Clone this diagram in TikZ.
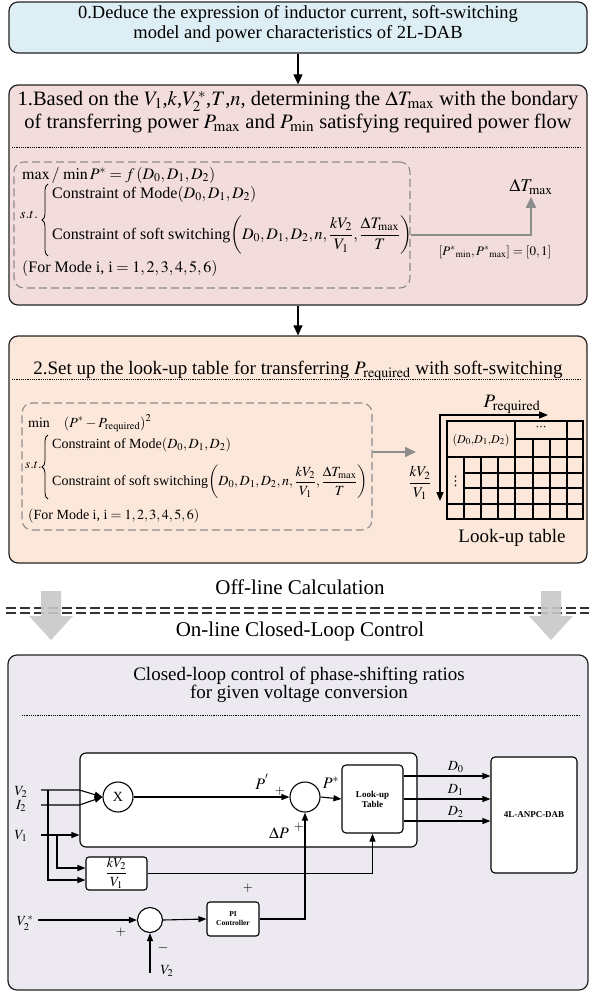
\documentclass[tikz,border=0pt]{standalone}
\usepackage{amsmath}
\usepackage{mathptmx}
\usepackage{fontspec}
\setmainfont{Liberation Serif}
\newfontfamily\dotsfont{DejaVu Sans}
\usetikzlibrary{arrows.meta,calc,decorations.pathreplacing}

\definecolor{panelblue}{HTML}{DDEEF4}
\definecolor{panelpink}{HTML}{F2DDDC}
\definecolor{panelpeach}{HTML}{FCE8DA}
\definecolor{panellilac}{HTML}{ECE9F1}
\definecolor{edge}{HTML}{222222}
\definecolor{dashgray}{HTML}{8C8C8C}
\definecolor{bigarrow}{HTML}{C8C8C8}
\definecolor{rule}{HTML}{333333}

\newcommand{\setfs}[2]{\fontsize{#1}{#2}\selectfont}

\begin{document}
\begin{tikzpicture}[x=1pt,y=-1pt,
  panel/.style={draw=edge,line width=1.2pt,rounded corners=9pt,inner sep=0pt},
  frame/.style={draw=dashgray,line width=1.1pt,dash pattern=on 8pt off 4pt,rounded corners=10pt,inner sep=0pt},
  sepline/.style={line width=0.7pt,dash pattern=on 1.2pt off 1pt},
  flow/.style={line width=1.1pt,-{Triangle[length=10pt,width=9pt]}},
  grayflow/.style={draw=dashgray,line width=1.6pt,-{Triangle[length=11pt,width=10pt]}},
  sig/.style={line width=1.1pt,-{Triangle[length=8pt,width=6pt]}},
  blk/.style={draw,line width=1.1pt,fill=white,rounded corners=4pt,inner sep=0pt},
  junc/.style={circle,draw,line width=1.1pt,fill=white,inner sep=0pt},
  title/.style={font=\setfs{19}{20},align=center,inner sep=0pt},
  eq/.style={font=\setfs{16}{18},inner sep=0pt},
  eqs/.style={font=\setfs{14}{16},inner sep=0pt},
  lbl/.style={font=\setfs{14}{16},inner sep=0pt},
  curly/.style={decorate,decoration={brace,amplitude=6pt},line width=0.8pt},
  tiny/.style={font=\bfseries\setfs{9}{10},align=center,inner sep=0pt},
  bigdown/.style={fill=bigarrow,fill opacity=0.9}]

\useasboundingbox (0,0) rectangle (589,993);

% ---------- step 0 ----------
\node[panel,fill=panelblue,minimum width=578pt,minimum height=51pt] (p0) at (298,27.5) {};
\node[title,font=\setfs{18.5}{19.5}] (t0) at (298,24) {0.Deduce the expression of inductor current, soft-switching\\model and power characteristics of 2L-DAB};

% ---------- step 1 ----------
\node[panel,fill=panelpink,minimum width=578pt,minimum height=220pt] (p1) at (298,195) {};
\node[title,font=\setfs{20.5}{23}] (t1) at (298,112) {1.Based on the $V_1$,$k$,$V_2^{\,*}$,$T$,$n$, determining the $\Delta T_{\max}$ with the bondary\\of transferring power $P_{\max}$ and $P_{\min}$ satisfying required power flow};
\draw[sepline] (12,147) -- (581,147);

\node[frame,minimum width=396pt,minimum height=126pt] (db1) at (212,225) {};
\node[eq,anchor=base west] (mx1) at (22,179) {$\max/\,\min P^{*}=f\left(D_0,D_1,D_2\right)$};
\node[font=\setfs{14}{16},inner sep=0pt,anchor=west] (st1) at (20,215) {$s.t.$};
\coordinate (bt1) at (48,184);
\coordinate (bb1) at (48,256);
\draw[curly] (bb1) -- (bt1);
\node[eq,anchor=west] (md1) at (52,194) {Constraint of Mode$\left(D_0,D_1,D_2\right)$};
\node[eq,anchor=west] (sr1) at (52,235) {Constraint of soft switching$\left(D_0,D_1,D_2,n,\dfrac{kV_2}{V_1},\dfrac{\Delta T_{\max}}{T}\right)$};
\node[eq,anchor=base west] (fm1) at (22,272) {$(\text{For Mode i, i}=1,2,3,4,5,6)$};

\node[font=\setfs{18}{20},inner sep=0pt] (dT) at (531,187) {$\Delta T_{\max}$};
\draw[grayflow] (db1.east |- sr1.east) -| ([yshift=-2pt]dT.south);
\node[font=\setfs{13}{15},inner sep=0pt] (rng) at (495,252) {$[P^{*}{}_{\min},P^{*}{}_{\max}]=[0,1]$};

\draw[flow] (p0.south) -- (p1.north);

% ---------- step 2 ----------
\node[panel,fill=panelpeach,minimum width=578pt,minimum height=227pt] (p2) at (298,449.5) {};
\node[title,anchor=base] (t2) at (298,374) {2.Set up the look-up table for transferring $P_{\mathrm{required}}$ with soft-switching};
\draw[sepline] (12,379) -- (581,379);

\node[frame,minimum width=350pt,minimum height=127pt] (db2) at (197,466.5) {};
\node[eqs,anchor=base west] (mn2) at (28,427) {$\min\quad(P^{*}-P_{\mathrm{required}})^2$};
\node[font=\setfs{13}{15},inner sep=0pt,anchor=west] (st2) at (25,465) {$s.t.$};
\coordinate (bt2) at (48,435);
\coordinate (bb2) at (48,499);
\draw[curly] (bb2) -- (bt2);
\node[eqs,anchor=west] (md2) at (52,445) {Constraint of Mode$\left(D_0,D_1,D_2\right)$};
\node[eqs,anchor=west] (sr2) at (52,482) {Constraint of soft switching$\left(D_0,D_1,D_2,n,\dfrac{kV_2}{V_1},\dfrac{\Delta T_{\max}}{T}\right)$};
\node[eqs,anchor=base west] (fm2) at (28,519) {$(\text{For Mode i, i}=1,2,3,4,5,6)$};

\coordinate (tin) at (416,452);
\draw[grayflow] (db2.east |- tin) -- (tin);
\node[font=\setfs{15}{17},inner sep=0pt] (kv) at (420,483) {$\dfrac{kV_2}{V_1}$};

% look-up table grid
\begin{scope}[line width=1.3pt]
  \draw (447,421) rectangle (583,519);
  \draw (447,457) -- (583,457);
  \draw (515,439) -- (583,439);
  \draw (464,473) -- (583,473);
  \draw (464,488) -- (583,488);
  \draw (447,504) -- (583,504);
  \foreach \xx in {464,481,498} \draw (\xx,457) -- (\xx,519);
  \foreach \xx in {533,550} \draw (\xx,439) -- (\xx,519);
  \draw (567,421) -- (567,519);
  \draw[line width=2.2pt] (515,421) -- (515,519);
\end{scope}
\node[font=\setfs{12}{14},inner sep=0pt] (cell) at (481,440) {$(D_0{,}D_1{,}D_2)$};
\node[font=\dotsfont\setfs{11}{13},inner sep=0pt] (hdots) at (541,428) {⋯};
\node[font=\dotsfont\setfs{13}{15},inner sep=0pt] (vdots) at (455.5,481) {⋮};
\node[font=\setfs{19}{21},inner sep=0pt] (preq) at (512,404) {$P_{\mathrm{required}}$};
\coordinate (tc) at (440,415);
\coordinate (tx) at (548,415);
\coordinate (ty) at (440,501);
\draw[line width=1.3pt,{Triangle[length=9pt,width=7pt]}-{Triangle[length=9pt,width=7pt]}] (tx) -- (tc) -- (ty);
\node[font=\setfs{19}{21},inner sep=0pt] (lt) at (512,538) {Look-up table};

\draw[flow] (p1.south) -- (p2.north);

% ---------- off-line / on-line split ----------
\node[font=\setfs{21}{23},inner sep=0pt] (off) at (300,587) {Off-line Calculation};
\draw[rule,line width=1.3pt,dash pattern=on 10pt off 4pt] (6,608) -- (589,608);
\draw[rule,line width=1.3pt,dash pattern=on 10pt off 4pt] (6,613) -- (589,613);
\fill[bigdown] (41,591) -- (61,591) -- (61,616) -- (73,616) -- (51,640) -- (29,616) -- (41,616) -- cycle;
\fill[bigdown] (541,591) -- (561,591) -- (561,616) -- (573,616) -- (551,640) -- (529,616) -- (541,616) -- cycle;
\node[font=\setfs{21}{23},inner sep=0pt] (on) at (300,631) {On-line Closed-Loop Control};

% ---------- closed-loop control ----------
\node[panel,fill=panellilac,minimum width=580pt,minimum height=335pt] (p3) at (298,822.5) {};
\node[title,font=\setfs{19}{18}] (t3) at (299,685) {Closed-loop control of phase-shifting ratios\\for given voltage conversion};
\draw[sepline] (22,715) -- (580,715);

\node[blk,rounded corners=6pt,minimum width=337pt,minimum height=94pt] (inner) at (248.5,800) {};
\node[junc,minimum size=30pt,font=\setfs{14}{16}] (mul) at (118,797) {X};
\node[junc,minimum size=30pt] (sum1) at (305,797) {};
\node[blk,minimum width=61pt,minimum height=68pt,tiny] (lut) at (372.5,799) {Look-up\\Table};
\node[blk,minimum width=86pt,minimum height=116pt,tiny] (dab) at (534,815) {4L-ANPC-DAB};
\node[blk,rounded corners=3pt,minimum width=61pt,minimum height=33pt,font=\setfs{14}{16}] (ratio) at (116.5,873.5) {$\dfrac{kV_2}{V_1}$};
\node[junc,minimum size=25pt] (sum2) at (150,920) {};
\node[blk,rounded corners=3pt,minimum width=52pt,minimum height=34pt,font=\bfseries\setfs{7.5}{9},align=center] (pi) at (233,919) {PI\\Controller};

% measured inputs
\node[lbl] (lv2) at (21,792) {$V_2$};
\node[lbl] (li2) at (21,806) {$I_2$};
\node[lbl] (lv1) at (21,836) {$V_1$};
\coordinate (v2s) at (41,790);
\coordinate (i2s) at (41,805);
\coordinate (v1s) at (41,835);
\draw[sig] (v2s) -- (v2s -| inner.west) -- (mul.west);
\draw[sig] (i2s) -- (i2s -| inner.west) -- (mul.west);
\draw[sig] (v1s) -- (v1s -| inner.west);
\coordinate (bv2) at (48,790);
\coordinate (bv1) at (57,835);
\draw[sig] (bv2) |- ($(ratio.west)+(0,6.5)$);
\draw[sig] (bv1) |- ($(ratio.west)+(0,-5.5)$);

% power path
\draw[sig] (mul.east) -- (sum1.west);
\node[font=\setfs{16}{18},inner sep=0pt] (lp1) at (262,782) {$P^{'}$};
\node[font=\setfs{13}{15},inner sep=0pt] (pl1) at (280,791) {$+$};
\draw[sig] (sum1.east) -- (lut.west);
\node[font=\setfs{16}{18},inner sep=0pt] (lp2) at (331,783) {$P^{*}$};
\node[font=\setfs{16}{18},inner sep=0pt] (ldp) at (279,833) {$\Delta P$};
\node[font=\setfs{13}{15},inner sep=0pt] (pl2) at (299,827) {$+$};

% duty outputs
\coordinate (d0s) at ($(lut.east)+(0,-23)$);
\coordinate (d1s) at (lut.east);
\coordinate (d2s) at ($(lut.east)+(0,22)$);
\draw[sig] (d0s) -- (d0s -| dab.west) node[pos=0.6,above=3pt,inner sep=0pt,font=\setfs{14}{16}] {$D_0$};
\draw[sig] (d1s) -- (d1s -| dab.west) node[pos=0.6,above=3pt,inner sep=0pt,font=\setfs{14}{16}] {$D_1$};
\draw[sig] (d2s) -- (d2s -| dab.west) node[pos=0.6,above=3pt,inner sep=0pt,font=\setfs{14}{16}] {$D_2$};

% ratio feed-forward into the table
\draw[sig] (ratio.east) -| (lut.south);
\node[font=\setfs{13}{15},inner sep=0pt] (pl3) at (248,888) {$+$};

% voltage loop
\node[lbl] (lv2r) at (25,923) {$V_2^{\,*}$};
\coordinate (v2rs) at (38,920);
\draw[sig] (v2rs) -- (sum2.west);
\node[font=\setfs{13}{15},inner sep=0pt] (pl4) at (121,932) {$+$};
\coordinate (v2b) at (150,973);
\draw[sig] (v2b) -- (sum2.south);
\node[font=\setfs{14}{16},inner sep=0pt] (mi1) at (163,948) {$-$};
\node[lbl] (lv2b) at (167,971) {$V_2$};
\draw[sig] (sum2.east) -- (pi.west);
\draw[sig] (pi.east) -| (sum1.south);

\end{tikzpicture}
\end{document}
